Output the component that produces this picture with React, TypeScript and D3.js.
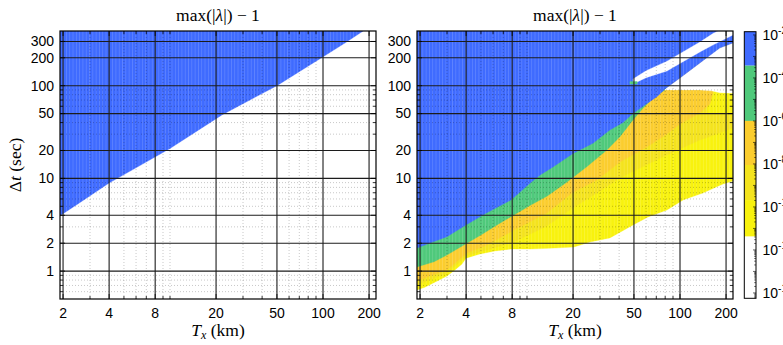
import { useEffect, useRef } from 'react';
import * as d3 from 'd3';

// axes
const xDomain = [1.91, 222];
const yDomain = [0.5, 389];
const xTicks = [2, 4, 8, 20, 50, 100, 200];
const xMinor = [3, 5, 6, 7, 9, 10, 30, 40, 60, 70, 80, 90];
const yTicks = [1, 2, 4, 10, 20, 50, 100, 200, 300];
const yMinor = [0.6, 0.7, 0.8, 0.9, 3, 5, 6, 7, 8, 9, 30, 40, 60, 70, 80, 90];

// left panel: lower edge of the blue region (Tx km -> dt sec)
const leftTx = [1.91, 2.5, 4, 6, 10, 22, 50, 95, 140, 183];
const leftBlueLow = [3.95, 5.3, 8.9, 13, 21, 48.7, 100, 194, 290, 389];

// right panel boundaries
const yelTx = [1.91, 2.15, 2.5, 3.0, 3.38, 3.76, 3.99, 4.93, 6.18, 7.86, 10.5, 15.2, 20.3, 25.8, 34.8, 49.3, 61.8, 82.2, 104.7, 141, 191, 222];
const yelLow = [0.625, 0.67, 0.76, 0.885, 1.03, 1.19, 1.38, 1.53, 1.65, 1.73, 1.73, 1.77, 1.82, 2.06, 2.28, 3.14, 3.84, 4.56, 5.85, 6.95, 8.7, 9.4];

const yoTx = [1.91, 3.0, 4.05, 5.48, 8.22, 13.5, 20, 28.7, 40.5, 60.8, 82.2, 135, 150, 151, 222];
const yoLow = [0.71, 0.95, 1.46, 1.69, 2.06, 3.07, 4.8, 6.95, 10.1, 14, 17.9, 26, 27.5, 27.6, 35];
const yoHigh = [389, 389, 389, 389, 389, 389, 389, 389, 389, 389, 389, 389, 389, 50.7, 50.7];

const goldTx = [1.91, 2.32, 3.0, 4.05, 5.48, 8.22, 13.5, 20, 28.7, 40.5, 60.8, 82.2, 100, 135, 157, 164];
const goldLow = [0.78, 0.885, 1.03, 1.57, 1.91, 2.77, 4.24, 7.1, 9.6, 15, 21.8, 30.1, 38.6, 50.7, 63.5, 83];

const greenTx = [1.91, 2.47, 3.0, 3.87, 5.0, 6.37, 8.22, 10.6, 13.5, 18.2, 24.7, 33.3, 40.5, 49.3, 57.3, 66.5, 76.5, 82.2];
const greenLow = [1.11, 1.26, 1.49, 1.91, 2.45, 3.14, 4.03, 5.16, 6.4, 9.1, 13.4, 20.2, 28.2, 42.7, 57, 73, 86, 92];

// white gap between the top of the yellow block and the lower blue strip
const gapTx = [79.8, 100, 135, 160, 182, 222];
const gapLow = [90, 90, 90, 88, 84, 83];
const gapHigh = [92, 121, 176, 220, 255, 289];

const blueTx = [1.91, 2.47, 3.0, 3.99, 5.4, 7.86, 10.5, 12.2, 14.8, 20, 27, 34.8, 42.4, 49.3, 59, 70.7, 79.8, 100, 135, 182, 222];
const blueLow = [1.77, 2.08, 2.35, 3.14, 4.2, 5.85, 8.9, 10.9, 13.3, 18.6, 24, 33.3, 40, 50, 62, 76, 92, 121, 176, 255, 289];

// white stripe cutting through the blue
const stripeTx = [49.3, 60, 82.2, 135, 164, 177, 191, 222];
const stripeLow = [104, 122, 144, 231, 274, 292, 311, 352];
const stripeHigh = [118, 145, 184, 296, 365, 389, 389, 389];

// small green patch at the tip of the stripe
const bitTx = [47, 52.5];
const bitLow = [104, 104];
const bitHigh = [111, 111];

// colorbar (exponents of 10)
const cbRange = [-14.25, -1.85];
const cbEdges = [-1.85, -3.43, -6.0, -8.05, -9.68, -11.38, -14.25];
const cbTicks = [-2, -4, -6, -8, -10, -12, -14];

const BLUE = '#3f6bff';
const GREEN = '#4fc97b';
const GOLD = '#fbcd2e';
const YO = '#f4e31d';
const YELLOW = '#f8f20e';
const cbColors = [BLUE, GREEN, GOLD, YO, YELLOW, '#ffffff'];

const SANS = '"Liberation Sans", Arial, sans-serif';
const SERIF = '"Liberation Serif", "DejaVu Serif", serif';

type Layer = { tx: number[]; lo: number[]; hi: number[] | null; color: string };

const leftLayers: Layer[] = [{ tx: leftTx, lo: leftBlueLow, hi: null, color: BLUE }];
const rightLayers: Layer[] = [
  { tx: yelTx, lo: yelLow, hi: null, color: YELLOW },
  { tx: yoTx, lo: yoLow, hi: yoHigh, color: YO },
  { tx: goldTx, lo: goldLow, hi: null, color: GOLD },
  { tx: greenTx, lo: greenLow, hi: null, color: GREEN },
  { tx: gapTx, lo: gapLow, hi: gapHigh, color: '#ffffff' },
  { tx: blueTx, lo: blueLow, hi: null, color: BLUE },
  { tx: stripeTx, lo: stripeLow, hi: stripeHigh, color: '#ffffff' },
  { tx: bitTx, lo: bitLow, hi: bitHigh, color: GREEN },
];

export default function App() {
  const ref = useRef<SVGSVGElement>(null);

  useEffect(() => {
    if (!ref.current) return;
    const svg = d3.select(ref.current);
    svg.selectAll('*').remove();

    const top = 31;
    const bottom = 299;
    const pw = 316;

    const defs = svg.append('defs');
    const pat = defs.append('pattern')
      .attr('id', 'cells')
      .attr('patternUnits', 'userSpaceOnUse')
      .attr('width', 3.3)
      .attr('height', 10);
    pat.append('rect').attr('x', 0).attr('y', 0).attr('width', 0.8).attr('height', 10)
      .attr('fill', '#fff').attr('opacity', 0.16);

    function drawPanel(left: number, layers: Layer[], id: string, yLabel: boolean) {
      const x = d3.scaleLog().domain(xDomain).range([left, left + pw]);
      const y = d3.scaleLog().domain(yDomain).range([bottom, top]);
      const g = svg.append('g');

      defs.append('clipPath').attr('id', id)
        .append('rect').attr('x', left).attr('y', top).attr('width', pw).attr('height', bottom - top);

      const plot = g.append('g').attr('clip-path', `url(#${id})`);
      plot.append('rect').attr('x', left).attr('y', top).attr('width', pw).attr('height', bottom - top)
        .attr('fill', '#fff');

      layers.forEach((L) => {
        const area = d3.area<number>()
          .x((i) => x(L.tx[i]))
          .y0((i) => y(L.lo[i]))
          .y1((i) => y(L.hi ? L.hi[i] : yDomain[1]))
          .curve(d3.curveLinear);
        plot.append('path')
          .attr('d', area(d3.range(L.tx.length)))
          .attr('fill', L.color)
          .attr('stroke', L.color)
          .attr('stroke-width', 0.3);
      });

      plot.append('rect').attr('x', left).attr('y', top).attr('width', pw).attr('height', bottom - top)
        .attr('fill', 'url(#cells)');

      // minor grid
      plot.selectAll('.xm').data(xMinor).join('line')
        .attr('x1', (d) => x(d)).attr('x2', (d) => x(d)).attr('y1', top).attr('y2', bottom)
        .attr('stroke', 'rgba(0,0,0,0.22)').attr('stroke-dasharray', '1,2');
      plot.selectAll('.ym').data(yMinor).join('line')
        .attr('y1', (d) => y(d)).attr('y2', (d) => y(d)).attr('x1', left).attr('x2', left + pw)
        .attr('stroke', 'rgba(0,0,0,0.22)').attr('stroke-dasharray', '1,2');

      // major grid
      plot.selectAll('.xg').data(xTicks).join('line')
        .attr('x1', (d) => x(d)).attr('x2', (d) => x(d)).attr('y1', top).attr('y2', bottom)
        .attr('stroke', '#1c1c1c').attr('stroke-width', 1.1);
      plot.selectAll('.yg').data(yTicks).join('line')
        .attr('y1', (d) => y(d)).attr('y2', (d) => y(d)).attr('x1', left).attr('x2', left + pw)
        .attr('stroke', '#1c1c1c').attr('stroke-width', 1.1);

      // tick marks on all sides
      const tk = g.append('g').attr('stroke', '#000').attr('stroke-width', 0.8);
      [...xMinor.map((d) => [d, 3]), ...xTicks.map((d) => [d, 5])].forEach(([d, len]) => {
        tk.append('line').attr('x1', x(d)).attr('x2', x(d)).attr('y1', bottom).attr('y2', bottom - len);
        tk.append('line').attr('x1', x(d)).attr('x2', x(d)).attr('y1', top).attr('y2', top + len);
      });
      [...yMinor.map((d) => [d, 3]), ...yTicks.map((d) => [d, 5])].forEach(([d, len]) => {
        tk.append('line').attr('y1', y(d)).attr('y2', y(d)).attr('x1', left).attr('x2', left + len);
        tk.append('line').attr('y1', y(d)).attr('y2', y(d)).attr('x1', left + pw).attr('x2', left + pw - len);
      });

      g.append('rect').attr('x', left).attr('y', top).attr('width', pw).attr('height', bottom - top)
        .attr('fill', 'none').attr('stroke', '#000').attr('stroke-width', 1.2);

      // tick labels
      g.selectAll('.xl').data(xTicks).join('text')
        .attr('x', (d) => x(d)).attr('y', 318)
        .attr('text-anchor', 'middle').attr('font-family', SANS).attr('font-size', 14)
        .text((d) => String(d));
      g.selectAll('.yl').data(yTicks).join('text')
        .attr('x', left - 6).attr('y', (d) => y(d)).attr('dy', '0.35em')
        .attr('text-anchor', 'end').attr('font-family', SANS).attr('font-size', 14)
        .text((d) => String(d));

      // title
      const t = g.append('text').attr('x', left + pw / 2).attr('y', 21)
        .attr('text-anchor', 'middle').attr('font-family', SERIF).attr('font-size', 17.5);
      t.append('tspan').text('max(|');
      t.append('tspan').attr('font-style', 'italic').text('λ');
      t.append('tspan').text('|) − 1');

      // x label
      const xl = g.append('text').attr('x', left + pw / 2).attr('y', 336)
        .attr('text-anchor', 'middle').attr('font-family', SERIF).attr('font-size', 17.5);
      xl.append('tspan').attr('font-style', 'italic').text('T');
      xl.append('tspan').attr('font-style', 'italic').attr('font-size', 12).attr('dy', 3).text('x');
      xl.append('tspan').attr('dy', -3).text(' (km)');

      if (yLabel) {
        const yl = g.append('text')
          .attr('transform', `translate(21, ${(top + bottom) / 2}) rotate(-90)`)
          .attr('text-anchor', 'middle').attr('font-family', SERIF).attr('font-size', 17.5);
        yl.append('tspan').text('Δ');
        yl.append('tspan').attr('font-style', 'italic').text('t');
        yl.append('tspan').text(' (sec)');
      }
    }

    drawPanel(60, leftLayers, 'clipL', true);
    drawPanel(417, rightLayers, 'clipR', false);

    // colorbar
    const cb = d3.scaleLinear().domain(cbRange).range([298.3, 31.7]);
    const cx = 744.3;
    const cw = 11.7;
    const cg = svg.append('g');
    cbColors.forEach((c, i) => {
      cg.append('rect')
        .attr('x', cx).attr('y', cb(cbEdges[i]))
        .attr('width', cw).attr('height', cb(cbEdges[i + 1]) - cb(cbEdges[i]))
        .attr('fill', c);
    });
    const ct = cg.append('g').attr('stroke', '#000').attr('stroke-width', 0.6);
    for (let e = -15; e <= -2; e++) {
      d3.range(1, 10).forEach((k) => {
        const v = e + Math.log10(k);
        if (v < cbRange[0] || v > cbRange[1]) return;
        const len = k === 1 ? 3 : 1.8;
        ct.append('line').attr('x1', cx + cw).attr('x2', cx + cw - len).attr('y1', cb(v)).attr('y2', cb(v));
      });
    }
    cg.append('rect').attr('x', cx).attr('y', 31.7).attr('width', cw).attr('height', 298.3 - 31.7)
      .attr('fill', 'none').attr('stroke', '#000').attr('stroke-width', 1);
    cbTicks.forEach((e) => {
      const tx = cg.append('text').attr('x', 762.5).attr('y', cb(e)).attr('dy', '0.35em')
        .attr('font-family', SANS).attr('font-size', 14);
      tx.append('tspan').text('10');
      tx.append('tspan').attr('font-size', 10).attr('dy', -6).text(String(e));
    });
  }, []);

  return (
    <svg
      ref={ref}
      width={783}
      height={345}
      style={{ position: 'absolute', left: 0, top: 0, background: '#fff' }}
    />
  );
}
